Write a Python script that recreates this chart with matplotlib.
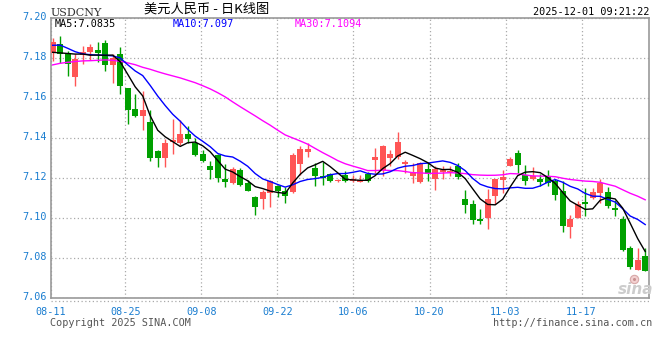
import matplotlib
matplotlib.use("Agg")
import matplotlib.pyplot as plt
import matplotlib.transforms as mtransforms
from matplotlib.lines import Line2D
import numpy as np
import pandas as pd

# USDCNY daily candles, first one is 2025-08-11
opens = [7.1826, 7.1872, 7.1827, 7.1709, 7.1817, 7.1833, 7.1843, 7.1876, 7.1769, 7.1822,
         7.1653, 7.1549, 7.1512, 7.1483, 7.1339, 7.1304, 7.1380, 7.1376, 7.1422, 7.1379,
         7.1323, 7.1263, 7.1318, 7.1197, 7.1177, 7.1240, 7.1177, 7.1106, 7.1099, 7.1126,
         7.1164, 7.1136, 7.1131, 7.1273, 7.1334, 7.1251, 7.1213, 7.1223, 7.1185, 7.1218,
         7.1189, 7.1182, 7.1223, 7.1293, 7.1243, 7.1301, 7.1309, 7.1273, 7.1213, 7.1180,
         7.1246, 7.1197, 7.1232, 7.1230, 7.1260, 7.1098, 7.1074, 7.0999, 7.1000, 7.1111,
         7.1190, 7.1263, 7.1326, 7.1218, 7.1197, 7.1197, 7.1205, 7.1185, 7.1135, 7.0957,
         7.1003, 7.1081, 7.1102, 7.1127, 7.1130, 7.1051, 7.0998, 7.0851, 7.0744, 7.0813]
highs = [7.1901, 7.1910, 7.1835, 7.1822, 7.1863, 7.1872, 7.1884, 7.1893, 7.1822, 7.1858,
         7.1653, 7.1624, 7.1636, 7.1541, 7.1342, 7.1397, 7.1495, 7.1491, 7.1461, 7.1400,
         7.1342, 7.1288, 7.1320, 7.1273, 7.1255, 7.1252, 7.1194, 7.1114, 7.1144, 7.1194,
         7.1169, 7.1157, 7.1329, 7.1362, 7.1379, 7.1276, 7.1284, 7.1225, 7.1195, 7.1235,
         7.1218, 7.1218, 7.1230, 7.1354, 7.1365, 7.1342, 7.1430, 7.1293, 7.1276, 7.1281,
         7.1276, 7.1260, 7.1260, 7.1260, 7.1276, 7.1144, 7.1094, 7.1045, 7.1147, 7.1197,
         7.1243, 7.1306, 7.1342, 7.1268, 7.1256, 7.1223, 7.1240, 7.1197, 7.1185, 7.1015,
         7.1086, 7.1152, 7.1152, 7.1197, 7.1157, 7.1094, 7.1011, 7.0863, 7.0854, 7.0854]
lows = [7.1785, 7.1775, 7.1714, 7.1660, 7.1772, 7.1792, 7.1780, 7.1736, 7.1676, 7.1624,
        7.1470, 7.1505, 7.1442, 7.1288, 7.1259, 7.1259, 7.1320, 7.1367, 7.1376, 7.1313,
        7.1280, 7.1197, 7.1180, 7.1156, 7.1174, 7.1161, 7.1135, 7.1015, 7.1048, 7.1057,
        7.1106, 7.1078, 7.1125, 7.1218, 7.1309, 7.1160, 7.1169, 7.1183, 7.1183, 7.1183,
        7.1182, 7.1180, 7.1180, 7.1227, 7.1210, 7.1260, 7.1296, 7.1227, 7.1177, 7.1177,
        7.1185, 7.1144, 7.1197, 7.1210, 7.1197, 7.1025, 7.0970, 7.0970, 7.0946, 7.1070,
        7.1128, 7.1260, 7.1227, 7.1169, 7.1190, 7.1160, 7.1160, 7.1094, 7.0932, 7.0904,
        7.1000, 7.1011, 7.1098, 7.1077, 7.1053, 7.1011, 7.0838, 7.0747, 7.0744, 7.0739]
closes = [7.1883, 7.1824, 7.1772, 7.1797, 7.1830, 7.1855, 7.1827, 7.1767, 7.1802, 7.1661,
          7.1544, 7.1512, 7.1541, 7.1304, 7.1301, 7.1379, 7.1392, 7.1420, 7.1397, 7.1318,
          7.1285, 7.1243, 7.1202, 7.1180, 7.1248, 7.1169, 7.1139, 7.1056, 7.1131, 7.1185,
          7.1136, 7.1114, 7.1317, 7.1347, 7.1347, 7.1213, 7.1200, 7.1185, 7.1193, 7.1185,
          7.1197, 7.1190, 7.1185, 7.1309, 7.1362, 7.1322, 7.1380, 7.1279, 7.1230, 7.1279,
          7.1223, 7.1246, 7.1240, 7.1235, 7.1207, 7.1065, 7.0990, 7.0987, 7.1098, 7.1197,
          7.1205, 7.1298, 7.1268, 7.1185, 7.1210, 7.1180, 7.1177, 7.1119, 7.0962, 7.0995,
          7.1074, 7.1073, 7.1132, 7.1177, 7.1061, 7.1041, 7.0843, 7.0755, 7.0792, 7.0739]

# MA values for the first candles (earlier closes are off the chart)
ma5_head = [7.1830, 7.1827, 7.1824, 7.1821]
ma10_head = [7.1865, 7.1866, 7.1850, 7.1833, 7.1822, 7.1818, 7.1816, 7.1815, 7.1812]
ma30_head = [7.1767, 7.1775, 7.1780, 7.1784, 7.1787, 7.1788, 7.1790, 7.1792, 7.1790, 7.1785,
             7.1777, 7.1768, 7.1755, 7.1745, 7.1733, 7.1722, 7.1712, 7.1702, 7.1690, 7.1678,
             7.1663, 7.1647, 7.1628, 7.1607, 7.1582, 7.1558, 7.1535, 7.1512, 7.1488]

date_labels = ["08-11", "08-25", "09-08", "09-22", "10-06", "10-20", "11-03", "11-17"]
price_ticks = [7.06, 7.08, 7.10, 7.12, 7.14, 7.16, 7.18, 7.20]

RED = "#ff5555"
GREEN = "#00a000"
BLUE_TXT = "#1a7dd0"
MONO = "DejaVu Sans Mono"

W, H = 660, 360
fig = plt.figure(figsize=(W / 100, H / 100), dpi=100)
fig.patch.set_facecolor("white")

# plot box in pixels
left, right, top, bottom = 50.7, 649, 18.3, 298.3
ax = fig.add_axes([left / W, 1 - bottom / H, (right - left) / W, (bottom - top) / H])

x = np.arange(len(closes))
o = np.array(opens)
c = np.array(closes)
colors = np.where(c >= o, RED, GREEN)
body_lo = np.minimum(o, c)
body_h = np.maximum(np.abs(c - o), 0.0003)

ax.vlines(x, lows, highs, colors=colors, linewidth=1, zorder=3)
ax.bar(x, body_h, bottom=body_lo, width=0.8, color=colors, linewidth=0, zorder=3)

s = pd.Series(closes)
ma5 = s.rolling(5).mean().to_numpy()
ma5[:4] = ma5_head
ma10 = s.rolling(10).mean().to_numpy()
ma10[:9] = ma10_head
ma30 = s.rolling(30).mean().to_numpy()
ma30[:29] = ma30_head

ax.plot(x, ma30, color="#ff00ff", linewidth=1, zorder=4)
ax.plot(x, ma10, color="#0000ff", linewidth=1, zorder=4)
ax.plot(x, ma5, color="black", linewidth=1, zorder=5)

# pixel -> data for the x axis (candle 0 centre at 52.7 px, 7.5 px per candle)
x_left = (left - 52.7) / 7.5
x_right = (right - 52.7) / 7.5
ax.set_xlim(x_left, x_right)
ax.set_ylim(7.06, 7.20)

tick_pos = [x_left] + [9.68 + 10.14 * k for k in range(7)]
ax.set_xticks(tick_pos)
ax.set_xticklabels(date_labels)
ax.set_yticks(price_ticks)
ax.set_yticklabels([f"{v:.2f}" for v in price_ticks])
ax.tick_params(length=0, labelsize=7.3, labelcolor=BLUE_TXT, pad=3)
ax.tick_params(axis="x", pad=6)
for lab in ax.get_xticklabels() + ax.get_yticklabels():
    lab.set_fontfamily(MONO)
offset = mtransforms.ScaledTranslation(0, 2 / 72, fig.dpi_scale_trans)
for lab in ax.get_yticklabels():
    lab.set_transform(lab.get_transform() + offset)

ax.grid(True, color="#aaaaaa", linestyle=(0, (1, 2)), linewidth=0.9)
for sp in ax.spines.values():
    sp.set_color("#999999")
    sp.set_linewidth(1.2)

# dotted line just under the plot box
fig.add_artist(Line2D([left / W, right / W], [1 - 301 / H, 1 - 301 / H],
                      color="#aaaaaa", linestyle=(0, (1, 2)), linewidth=0.9))

# header
fig.text(left / W, 1 - 12.5 / H, "USDCNY", fontsize=8, family="DejaVu Serif",
         color="#333333", va="center", ha="left")
fig.text(207 / W, 1 - 9.5 / H, "美元人民币 - 日K线图", fontsize=9.5,
         family=["Noto Sans CJK SC", "DejaVu Sans"], color="black", va="center", ha="center")
fig.text(649 / W, 1 - 12.3 / H, "2025-12-01 09:21:22", fontsize=7.3, family=MONO,
         color="black", va="center", ha="right")

# MA readouts inside the box
fig.text(55 / W, 1 - 24 / H, "MA5:7.0835", fontsize=7.3, family=MONO, color="black", va="center")
fig.text(173 / W, 1 - 24 / H, "MA10:7.097", fontsize=7.3, family=MONO, color="#0000ff", va="center")
fig.text(295 / W, 1 - 24 / H, "MA30:7.1094", fontsize=7.3, family=MONO, color="#ff00ff", va="center")

# footer
fig.text(50 / W, 1 - 323.5 / H, "Copyright 2025 SINA.COM", fontsize=7.3, family=MONO,
         color="#555555", va="center", ha="left")
fig.text(652 / W, 1 - 323.5 / H, "http://finance.sina.com.cn", fontsize=7.3, family=MONO,
         color="#555555", va="center", ha="right")

# faint sina mark: eye above the word
fig.text(636 / W, 1 - 290 / H, "sina", fontsize=11, fontweight="bold", style="italic",
         color="#cccccc", va="center", ha="center", zorder=1)
fig.add_artist(Line2D([634 / W], [1 - 279 / H], marker="o", markersize=6,
                      markerfacecolor="#f2d0d0", markeredgecolor="#d8a8a8", markeredgewidth=0.8))
fig.add_artist(Line2D([634 / W], [1 - 279 / H], marker="o", markersize=2.2,
                      markerfacecolor="#c89090", markeredgewidth=0))

fig.savefig("out.png", dpi=100, facecolor="white")
